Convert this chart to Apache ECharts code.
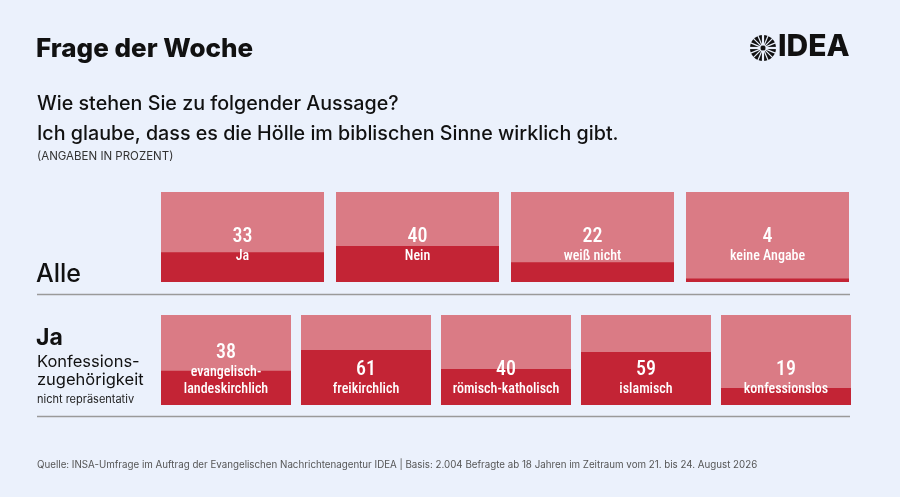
<!DOCTYPE html>
<html>
<head>
<meta charset="utf-8">
<script src="https://cdn.jsdelivr.net/npm/echarts@6/dist/echarts.min.js"></script>
<style>
  html, body { margin: 0; padding: 0; background: #ebf1fc; }
  #chart { width: 900px; height: 497px; }
</style>
</head>
<body>
<div id="chart"></div>
<script>
// Alle
let allCats = ['Ja', 'Nein', 'weiß nicht', 'keine Angabe']
let allVals = [33, 40, 22, 4]
// Ja, nach Konfessionszugehörigkeit
let konfCats = ['evangelisch-\nlandeskirchlich', 'freikirchlich', 'römisch-katholisch', 'islamisch', 'konfessionslos']
let konfVals = [38, 61, 40, 59, 19]

let pink = '#da7b85'
let red = '#c32435'
let condensed = "'Roboto Condensed', 'Liberation Sans Narrow', Roboto, sans-serif"
let sans = "Inter, 'Noto Sans', sans-serif"

let myChart = echarts.init(document.getElementById('chart'))

// Beschriftung im Feld: Zahl und Kategorie
function panelLabel(cats, vals, singleOffset, doubleOffset) {
  return vals.map((v, i) => {
    let twoLines = cats[i].indexOf('\n') > -1
    let name = cats[i].split('\n').map(s => '{n|' + s + '}').join('\n')
    return {
      value: 100,
      label: {
        show: true,
        position: 'inside',
        offset: [0, twoLines ? doubleOffset : singleOffset],
        formatter: '{v|' + v + '}\n' + name,
        rich: {
          v: { fontFamily: condensed, fontSize: 20, fontWeight: 500, color: '#fff', lineHeight: 22, align: 'center' },
          n: { fontFamily: condensed, fontSize: 14, fontWeight: 500, color: '#fff', lineHeight: 17, align: 'center' }
        }
      }
    }
  })
}

function barSeries(idx, vals, width) {
  return {
    type: 'bar',
    xAxisIndex: idx,
    yAxisIndex: idx,
    barWidth: width,
    data: vals,
    silent: true,
    showBackground: true,
    backgroundStyle: { color: pink },
    itemStyle: { color: red },
    z: 2
  }
}

function labelSeries(idx, cats, vals, width, so, dof) {
  return {
    type: 'bar',
    xAxisIndex: idx,
    yAxisIndex: idx,
    barWidth: width,
    barGap: '-100%',
    data: panelLabel(cats, vals, so, dof),
    silent: true,
    itemStyle: { color: 'transparent' },
    z: 3
  }
}

let line = (y) => ({
  type: 'line',
  shape: { x1: 37, y1: y, x2: 850, y2: y },
  style: { stroke: '#9a9a9a', lineWidth: 1.5 }
})
let txt = (x, y, text, size, weight, color, family) => ({
  type: 'text',
  left: x,
  top: y,
  style: { text: text, fontSize: size, fontWeight: weight, fill: color || '#111', fontFamily: family || sans }
})

// Logo: schwarzer Kreis mit Strahlen
let rays = []
for (let a = 0; a < 8; a++) {
  let ang = a * Math.PI / 8
  rays.push({
    type: 'line',
    shape: { x1: 763 - 14 * Math.cos(ang), y1: 48 - 14 * Math.sin(ang), x2: 763 + 14 * Math.cos(ang), y2: 48 + 14 * Math.sin(ang) },
    style: { stroke: '#ebf1fc', lineWidth: a % 4 === 0 ? 2.2 : 1.2 }
  })
}

let option = {
  backgroundColor: '#ebf1fc',
  animation: false,
  grid: [
    { left: 155, width: 700, top: 192, height: 90 },
    { left: 156, width: 700, top: 315, height: 90 }
  ],
  xAxis: [
    { type: 'category', gridIndex: 0, data: allCats, show: false },
    { type: 'category', gridIndex: 1, data: konfCats, show: false }
  ],
  yAxis: [
    { type: 'value', gridIndex: 0, min: 0, max: 100, show: false },
    { type: 'value', gridIndex: 1, min: 0, max: 100, show: false }
  ],
  series: [
    barSeries(0, allVals, 163),
    labelSeries(0, allCats, allVals, 163, 8, 8),
    barSeries(1, konfVals, 130),
    labelSeries(1, konfCats, konfVals, 130, 18, 10)
  ],
  graphic: [
    txt(36, 36, 'Frage der Woche', 26, 800),
    txt(778, 32, 'IDEA', 30, 800, '#111'),
    { type: 'circle', shape: { cx: 763, cy: 48, r: 13 }, style: { fill: '#111' } },
    ...rays,
    { type: 'circle', shape: { cx: 763, cy: 48, r: 2.5 }, style: { fill: '#111' } },
    txt(37, 94, 'Wie stehen Sie zu folgender Aussage?', 19.7, 500),
    txt(37, 124, 'Ich glaube, dass es die Hölle im biblischen Sinne wirklich gibt.', 19.7, 500),
    txt(37, 151, '(ANGABEN IN PROZENT)', 11.5, 400, '#333'),
    txt(36, 262, 'Alle', 25, 500),
    txt(36, 327, 'Ja', 23, 700),
    txt(37, 354, 'Konfessions-', 16.5, 400),
    txt(37, 372, 'zugehörigkeit', 16.5, 400),
    txt(37, 394, 'nicht repräsentativ', 11, 400, '#222'),
    txt(37, 460, 'Quelle: INSA-Umfrage im Auftrag der Evangelischen Nachrichtenagentur IDEA | Basis: 2.004 Befragte ab 18 Jahren im Zeitraum vom 21. bis 24. August 2026', 9.75, 400, '#555'),
    line(294.5),
    line(416.5)
  ]
}
myChart.setOption(option)
</script>
</body>
</html>
